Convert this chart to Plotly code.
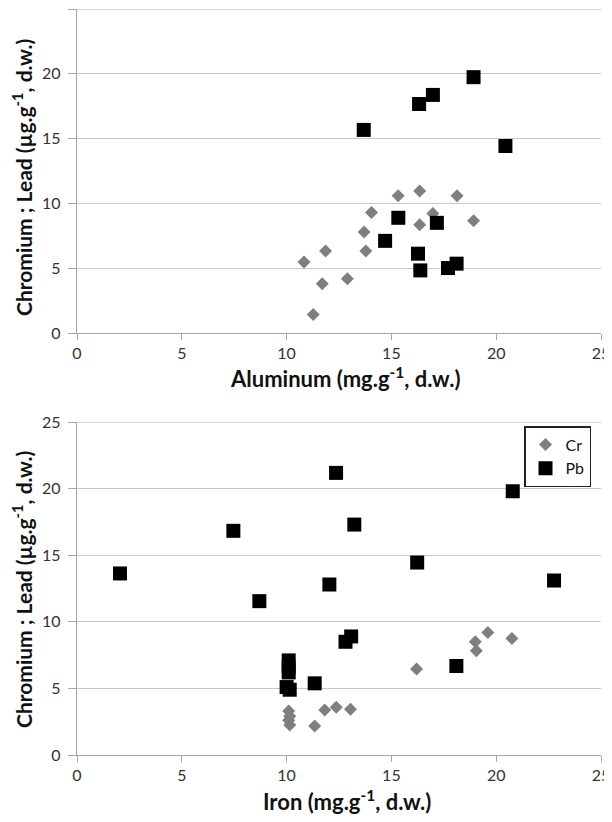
import plotly.graph_objects as go

# ---- data ----
al_cr_x = [10.83, 11.27, 11.70, 11.86, 12.90, 13.70, 13.78, 14.05, 15.32, 16.35, 16.35, 16.98, 18.13, 18.92]
al_cr_y = [5.48, 1.42, 3.80, 6.33, 4.19, 7.80, 6.33, 9.30, 10.59, 10.96, 8.35, 9.22, 10.59, 8.66]
al_pb_x = [13.68, 16.32, 16.98, 18.92, 20.44, 14.70, 15.33, 17.17, 16.27, 16.38, 17.70, 18.11]
al_pb_y = [15.67, 17.67, 18.37, 19.74, 14.43, 7.11, 8.89, 8.50, 6.12, 4.83, 5.01, 5.35]

fe_cr_x = [10.10, 10.15, 10.10, 10.15, 11.34, 11.82, 12.37, 13.05, 16.20, 19.00, 19.05, 19.60, 20.75]
fe_cr_y = [3.30, 2.90, 2.60, 2.25, 2.18, 3.38, 3.58, 3.43, 6.45, 8.50, 7.83, 9.20, 8.75]
fe_pb_x = [2.05, 7.46, 8.70, 10.10, 10.10, 10.10, 10.00, 10.15, 11.34, 12.04, 12.36, 12.81, 13.08, 13.23, 16.23, 18.10, 20.79, 22.76]
fe_pb_y = [13.63, 16.83, 11.55, 7.10, 6.60, 6.20, 5.10, 4.90, 5.38, 12.80, 21.18, 8.50, 8.90, 17.30, 14.45, 6.68, 19.80, 13.10]

x_ticks = [0, 5, 10, 15, 20, 25]
y_ticks = [0, 5, 10, 15, 20, 25]
y_ticktext_top = ["0", "5", "10", "15", "20", ""]
y_ticktext_bot = ["0", "5", "10", "15", "20", "25"]
axis_max = 25

series_names = ["Cr", "Pb"]
x_title_top = "Aluminum (mg.g<sup>-1</sup>, d.w.)"
x_title_bot = "Iron (mg.g<sup>-1</sup>, d.w.)"
y_title = "Chromium ; Lead (µg.g<sup>-1</sup>, d.w.)"

CR_COLOR = "#7f7f7f"
PB_COLOR = "#000000"
GRID = "#c8c8c8"
FONT = "Lato"

fig = go.Figure()
cr_marker = dict(symbol="diamond", size=10, color=CR_COLOR)
pb_marker = dict(symbol="square", size=14, color=PB_COLOR)

fig.add_trace(go.Scatter(x=al_cr_x, y=al_cr_y, mode="markers", marker=cr_marker,
                         name=series_names[0], showlegend=False, xaxis="x", yaxis="y"))
fig.add_trace(go.Scatter(x=al_pb_x, y=al_pb_y, mode="markers", marker=pb_marker,
                         name=series_names[1], showlegend=False, xaxis="x", yaxis="y"))
fig.add_trace(go.Scatter(x=fe_cr_x, y=fe_cr_y, mode="markers", marker=cr_marker,
                         name=series_names[0], xaxis="x2", yaxis="y2"))
fig.add_trace(go.Scatter(x=fe_pb_x, y=fe_pb_y, mode="markers", marker=pb_marker,
                         name=series_names[1], xaxis="x2", yaxis="y2"))

# page body has an 8px default margin: work in screen pixels, convert to figure
OFF = 8
W, H = 612 - OFF, 822 - OFF
PL, PR, PT, PB_ = 77, 601, 9, 755          # plot area in screen pixels
L, R, T, B = PL - OFF, W - (PR - OFF), PT - OFF, H - (PB_ - OFF)
pw, ph = W - L - R, H - T - B

def px(xs):
    return (xs - PL) / pw

def py(ys):
    return (PB_ - ys) / ph

top_lo = py(333)
bot_hi = py(422)

axis_common = dict(
    showline=True, linecolor="#a6a6a6", linewidth=1.3,
    ticks="outside", tickcolor="#a6a6a6", tickwidth=1.2,
    tickfont=dict(family=FONT, size=16, color="#333333"),
    zeroline=False, fixedrange=True, automargin=False,
)
xax = dict(axis_common, range=[0, axis_max], tickvals=x_ticks, showgrid=False, ticklen=6)
yax = dict(axis_common, range=[0, axis_max], tickvals=y_ticks, showgrid=True, ticklen=8,
           gridcolor=GRID, gridwidth=1.3, ticklabelstandoff=4)

fig.update_layout(
    template="none",
    width=W, height=H,
    margin=dict(l=L, r=R, t=T, b=B, autoexpand=False),
    paper_bgcolor="white", plot_bgcolor="white",
    xaxis=dict(xax, domain=[0, 1], anchor="y"),
    yaxis=dict(yax, domain=[top_lo, 1], anchor="x", ticktext=y_ticktext_top),
    xaxis2=dict(xax, domain=[0, 1], anchor="y2"),
    yaxis2=dict(yax, domain=[0, bot_hi], anchor="x2", ticktext=y_ticktext_bot),
    legend=dict(x=px(591), y=py(426), xanchor="right", yanchor="top",
                bgcolor="white", bordercolor="#222222", borderwidth=1.5,
                font=dict(family=FONT, size=16, color="#111111"),
                itemwidth=30, tracegroupgap=0),
    showlegend=True,
)

# top gridline at the upper end of each y range
for xr, yr in [("x", "y"), ("x2", "y2")]:
    fig.add_shape(type="line", xref=xr, yref=yr, x0=0, x1=axis_max, y0=axis_max, y1=axis_max,
                  line=dict(color=GRID, width=1.3), layer="below")

xt_font = dict(family=FONT, size=22, color="#111111", weight="bold")
yt_font = dict(family=FONT, size=21, color="#111111", weight="bold")
ann = []
ann.append(dict(text="<b>" + x_title_top + "</b>", xref="paper", yref="paper",
                x=px(345), y=py(377), xanchor="center", yanchor="middle",
                showarrow=False, font=xt_font))
ann.append(dict(text="<b>" + x_title_bot + "</b>", xref="paper", yref="paper",
                x=px(347), y=py(800), xanchor="center", yanchor="middle",
                showarrow=False, font=xt_font))
for yc in [178, 590]:
    ann.append(dict(text="<b>" + y_title + "</b>", xref="paper", yref="paper",
                    x=px(22), y=py(yc), xanchor="center", yanchor="middle",
                    textangle=-90, showarrow=False, font=yt_font))
fig.update_layout(annotations=ann)

fig.write_html("out.html")
